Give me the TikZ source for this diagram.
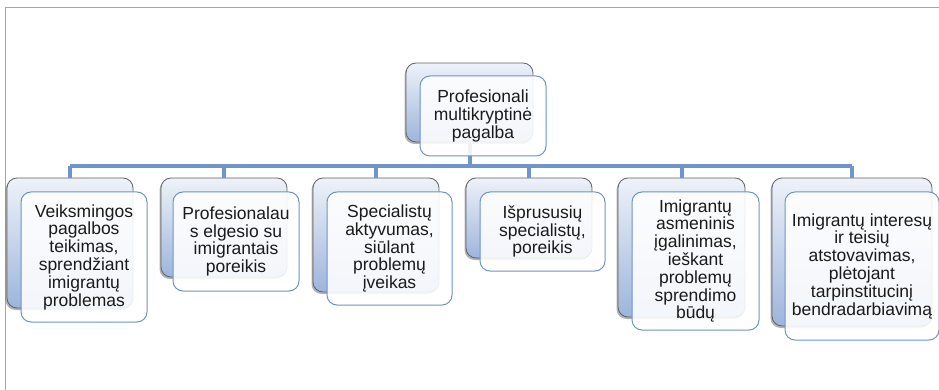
\documentclass[tikz,border=0pt]{standalone}
\usepackage{fontspec}
\setmainfont{Liberation Sans}
\usetikzlibrary{shadows}
\definecolor{framegray}{HTML}{A6A6A6}
\definecolor{backborder}{HTML}{5F6368}
\definecolor{gradtop}{HTML}{EEF2F9}
\definecolor{gradbot}{HTML}{9DB5DC}
\definecolor{frontborder}{HTML}{6F93C8}
\definecolor{connblue}{HTML}{7094CC}
\definecolor{txt}{HTML}{1A1A1A}
\tikzset{
  backbox/.style={draw=backborder, line width=0.8pt, rounded corners=10pt,
    top color=gradtop, bottom color=gradbot, anchor=north west,
    inner sep=0pt, outer sep=0pt,
    drop shadow={shadow xshift=-1.5pt, shadow yshift=-2pt, fill=black, opacity=0.3}},
  frontbox/.style={draw=frontborder, line width=1pt, rounded corners=10pt,
    fill=white, fill opacity=0.88, text opacity=1, anchor=north west,
    inner sep=0pt, outer sep=0pt, align=center, text=txt,
    font=\fontsize{17.5}{17.8}\selectfont},
  conn/.style={draw=connblue, line width=4pt},
}
\begin{document}
\begin{tikzpicture}[x=1pt, y=-1pt]
\useasboundingbox (0,0) rectangle (939,390);
\draw[framegray, line width=1pt] (5,390) -- (5,8) -- (939,8);
\coordinate (bus) at (0,166);
% back boxes
\node[backbox, minimum width=127pt, minimum height=79pt] (bt) at (406,63) {};
\node[backbox, minimum width=126pt, minimum height=130pt] (b1) at (7,178) {};
\node[backbox, minimum width=126pt, minimum height=99pt] (b2) at (161,178) {};
\node[backbox, minimum width=126pt, minimum height=114pt] (b3) at (313,178) {};
\node[backbox, minimum width=126pt, minimum height=80pt] (b4) at (466,178) {};
\node[backbox, minimum width=127pt, minimum height=139pt] (b5) at (618,178) {};
\node[backbox, minimum width=160pt, minimum height=148pt] (b6) at (772,178) {};
% connectors
\draw[conn] (bt.south) -- (bt.south |- bus);
\draw[conn] (b1.north |- bus) -- (b6.north |- bus);
\foreach \n in {b1,b2,b3,b4,b5,b6} \draw[conn] (\n.north |- bus) -- (\n.north);
% front boxes
\node[frontbox, minimum width=126pt, minimum height=80pt] (ft) at (420,76) {Profesionali\\multikryptinė\\pagalba};
\node[frontbox, minimum width=126pt, minimum height=130pt] (f1) at (21,192) {Veiksmingos\\pagalbos\\teikimas,\\sprendžiant\\imigrantų\\problemas};
\node[frontbox, minimum width=126pt, minimum height=99pt] (f2) at (173,192) {Profesionalau\\s elgesio su\\imigrantais\\poreikis};
\node[frontbox, minimum width=125pt, minimum height=113pt] (f3) at (327,192) {Specialistų\\aktyvumas,\\siūlant\\problemų\\įveikas};
\node[frontbox, minimum width=125pt, minimum height=79pt] (f4) at (480,192) {Išprususių\\specialistų,\\poreikis};
\node[frontbox, minimum width=127pt, minimum height=138pt] (f5) at (632,192) {Imigrantų\\asmeninis\\įgalinimas,\\ieškant\\problemų\\sprendimo\\būdų};
\node[frontbox, minimum width=154pt, minimum height=148pt] (f6) at (785,192) {Imigrantų interesų\\ir teisių\\atstovavimas,\\plėtojant\\tarpinstitucinį\\bendradarbiavimą};
\end{tikzpicture}
\end{document}
